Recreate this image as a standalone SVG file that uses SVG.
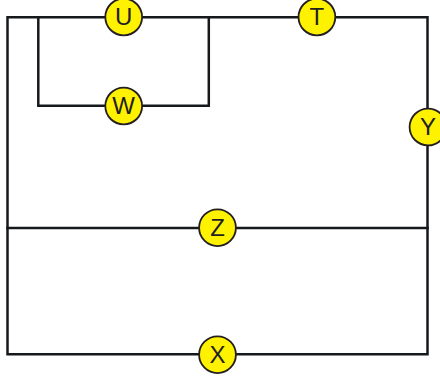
<svg xmlns="http://www.w3.org/2000/svg" width="440" height="380" viewBox="0 0 440 380">
<style>
.w{fill:none;stroke:#16191c;stroke-width:2.5;stroke-linecap:square;stroke-linejoin:miter}
.n{fill:#fff200;stroke:#231f20;stroke-width:1.8}
.t{font-family:"Liberation Sans",Arial,sans-serif;font-size:24px;fill:#231f20;text-anchor:middle}
</style>
<rect width="440" height="380" fill="#fff"/>
<g id="connectors">
<path class="w" d="M7.500 17.300H427.500V354.200H7.500Z"/>
<path class="w" d="M7.500 228H427.500"/>
<path class="w" d="M38.300 17.300V105.700H208.800V17.300"/>
</g>
<g id="U"><circle class="n" cx="123.700" cy="17" r="18.400"/><text class="t" x="123.700" y="25">U</text></g>
<g id="T"><circle class="n" cx="316.900" cy="17" r="18.400"/><text class="t" x="316.900" y="25">T</text></g>
<g id="W"><circle class="n" cx="123.700" cy="106" r="18.400"/><text class="t" x="123.700" y="114">W</text></g>
<g id="Y"><circle class="n" cx="428" cy="127" r="18.400"/><text class="t" x="428" y="135">Y</text></g>
<g id="Z"><circle class="n" cx="217.500" cy="227.700" r="18.400"/><text class="t" x="217.500" y="236">Z</text></g>
<g id="X"><circle class="n" cx="217.500" cy="354.700" r="18.400"/><text class="t" x="217.500" y="363">X</text></g>
</svg>
